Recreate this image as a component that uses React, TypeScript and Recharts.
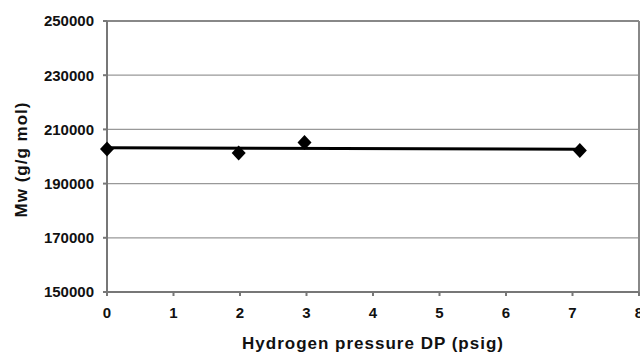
import React from 'react';
import { ScatterChart, Scatter, XAxis, YAxis, CartesianGrid, ReferenceLine } from 'recharts';

const pressureX = [0, 1.98, 2.97, 7.11];
const mwValues = [202800, 201300, 205200, 202200];
const trendX = [0, 7.11];
const trendY = [203200, 202700];
const xTicks = [0, 1, 2, 3, 4, 5, 6, 7, 8];
const yTicks = [150000, 170000, 190000, 210000, 230000, 250000];

const points = pressureX.map((x, i) => ({ x, y: mwValues[i] }));
const trend = trendX.map((x, i) => ({ x, y: trendY[i] }));

const FONT = '"Liberation Sans", Arial, sans-serif';

const Diamond = (props: any) => {
  const { cx, cy } = props;
  if (cx == null || cy == null) return null;
  return (
    <polygon
      points={`${cx},${cy - 7.5} ${cx + 7},${cy} ${cx},${cy + 7.5} ${cx - 7},${cy}`}
      fill="#000"
    />
  );
};

const YLabel = (props: any) => {
  const vb = props.viewBox || {};
  const x = (vb.x || 0) + 21;
  const y = (vb.y || 0) + (vb.height || 0) / 2 + 3;
  return (
    <text
      x={x}
      y={y}
      transform={`rotate(-90, ${x}, ${y})`}
      textAnchor="middle"
      dominantBaseline="central"
      fontFamily={FONT}
      fontWeight="bold"
      fontSize={17}
      letterSpacing={1}
      fill="#111"
    >
      Mw (g/g mol)
    </text>
  );
};

const XLabel = (props: any) => {
  const vb = props.viewBox || {};
  const x = (vb.x || 0) + (vb.width || 0) / 2;
  const y = (vb.y || 0) + 57;
  return (
    <text x={x} y={y} textAnchor="middle" fontFamily={FONT} fontWeight="bold" fontSize={17} letterSpacing={1} fill="#111">
      Hydrogen pressure DP (psig)
    </text>
  );
};

export default function App() {
  return (
    <div style={{ position: 'absolute', left: 0, top: 0, background: '#fff' }}>
      <ScatterChart width={640} height={358} margin={{ top: 21, right: 1, bottom: 36, left: 0 }}>
        <CartesianGrid horizontal vertical={false} stroke="#999" strokeWidth={1.2} />
        <XAxis
          type="number"
          dataKey="x"
          domain={[0, 8]}
          ticks={xTicks}
          interval={0}
          stroke="#777"
          strokeWidth={2}
          tickSize={4}
          tickMargin={11}
          tick={{ fontFamily: FONT, fontWeight: 'bold', fontSize: 15, fill: '#111' }}
          label={<XLabel />}
        />
        <YAxis
          type="number"
          dataKey="y"
          domain={[150000, 250000]}
          ticks={yTicks}
          interval={0}
          width={107}
          stroke="#777"
          strokeWidth={2}
          tickSize={4}
          tickMargin={9}
          tick={{ fontFamily: FONT, fontWeight: 'bold', fontSize: 15, fill: '#111' }}
          label={<YLabel />}
        />
        <ReferenceLine x={8} stroke="#888" strokeWidth={2} />
        <ReferenceLine y={250000} stroke="#888" strokeWidth={2} />
        <Scatter
          data={trend}
          line={{ stroke: '#000', strokeWidth: 3 }}
          shape={() => null}
          isAnimationActive={false}
        />
        <Scatter data={points} shape={<Diamond />} isAnimationActive={false} />
      </ScatterChart>
    </div>
  );
}
